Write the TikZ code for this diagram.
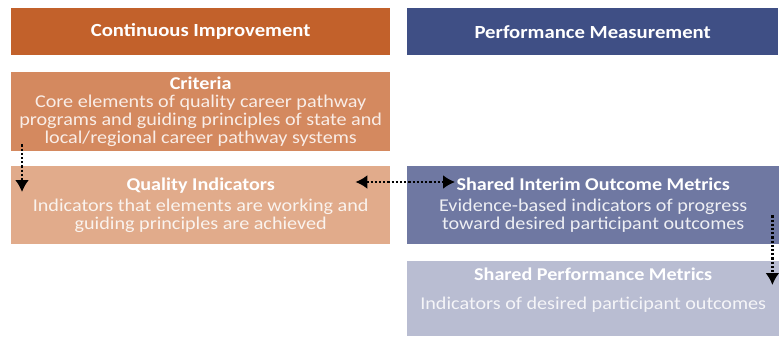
\documentclass[tikz,border=0pt]{standalone}
\usepackage{fontspec}
\setmainfont[FakeStretch=1.12]{Carlito}
\usepackage{tikz}
\usetikzlibrary{arrows.meta}

\definecolor{ciDark}{HTML}{C2612B}
\definecolor{ciMid}{HTML}{D4895F}
\definecolor{ciLight}{HTML}{E1AB8B}
\definecolor{pmDark}{HTML}{3F4F85}
\definecolor{pmMid}{HTML}{6F78A2}
\definecolor{pmLight}{HTML}{B9BDD2}

\tikzset{
  box/.style={rectangle, anchor=north west, inner sep=0pt, align=center,
    minimum width=#1, font=\fontsize{18}{18}\selectfont},
  head/.style={text=white, font=\fontsize{18.5}{19}\selectfont\bfseries},
  link/.style={line width=2.2pt, dotted, -{Latex[length=12pt,width=14pt]}}
}

\begin{document}
\begin{tikzpicture}[x=1pt,y=-1pt]
\useasboundingbox (0,0) rectangle (779,337);

% column headers
\node [box=379pt, fill=ciDark, minimum height=47pt, head] (ci) at (11,8) {Continuous Improvement};
\node [box=371pt, fill=pmDark, minimum height=47pt, head] (pm) at (407,8) {Performance Measurement};

% improvement side
\node [box=379pt, fill=ciMid, minimum height=79pt, text=white!85!ciMid] (crit) at (11,72)
  {{\bfseries\color{white}Criteria}\\Core elements of quality career pathway\\programs and guiding principles of state and\\local/regional career pathway systems};
\node [box=379pt, fill=ciLight, minimum height=78pt, text=white!85!ciLight] (qual) at (11,166)
  {{\bfseries\color{white}Quality Indicators}\\[3pt]Indicators that elements are working and\\guiding principles are achieved};

% measurement side
\node [box=372pt, fill=pmMid, minimum height=78pt, text=white!88!pmMid] (interim) at (407,166)
  {{\bfseries\color{white}Shared Interim Outcome Metrics}\\[3pt]Evidence-based indicators of progress\\toward desired participant outcomes};
\node [box=372pt, fill=pmLight, minimum height=75pt, text=white!85!pmLight] (perf) at (407,261)
  {{\bfseries\color{white}Shared Performance Metrics}\\[11pt]Indicators of desired participant outcomes\\[2pt]};

% links
\draw [link] ([xshift=11pt,yshift=7pt]crit.south west) -- ([xshift=11pt,yshift=-26pt]qual.north west);
\draw [link, {Latex[length=12pt,width=14pt]}-{Latex[length=12pt,width=14pt]}] ([xshift=-35pt,yshift=-16pt]qual.north east) -- ([xshift=48pt,yshift=-16pt]interim.north west);
\draw [link] ([xshift=-7pt,yshift=29pt]interim.south east) -- ([xshift=-7pt,yshift=-24pt]perf.north east);
\end{tikzpicture}
\end{document}
